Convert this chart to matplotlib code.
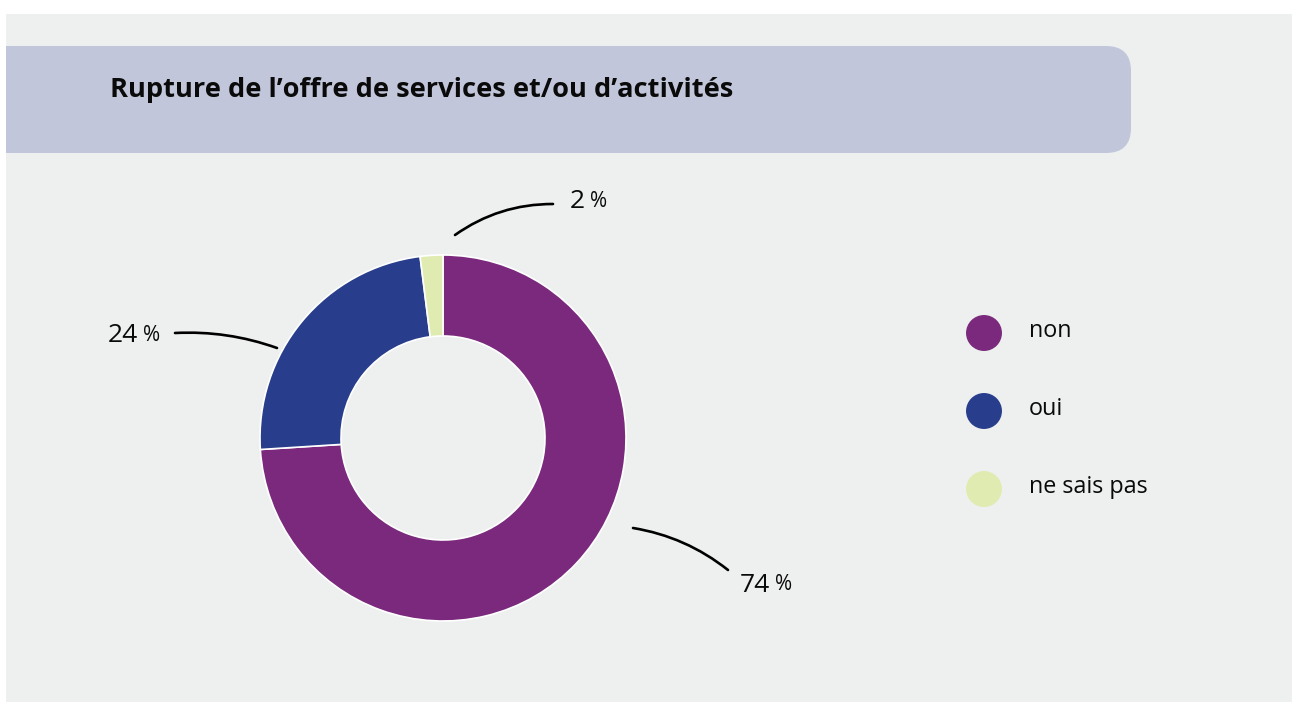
import matplotlib.pyplot as plt
from matplotlib.patches import Rectangle, FancyBboxPatch

labels = ["non", "oui", "ne sais pas"]
values = [74, 24, 2]
colors = ["#7a297c", "#283e8c", "#e0ebb2"]
title = "Rupture de l\u2019offre de services et/ou d\u2019activités"

plt.rcParams["font.family"] = ["Open Sans", "DejaVu Sans"]

W, H = 1292, 702
fig = plt.figure(figsize=(W / 100, H / 100), dpi=100)
fig.patch.set_facecolor("white")

# background layer in pixel coordinates
bg = fig.add_axes([0, 0, 1, 1])
bg.set_xlim(0, W)
bg.set_ylim(H, 0)
bg.axis("off")
panel = Rectangle((6, 14), W - 6, H - 14, facecolor="#eef0ef", edgecolor="none")
bg.add_patch(panel)
band = FancyBboxPatch((-40, 46), 1131 + 40, 107,
                      boxstyle="round,pad=0,rounding_size=25",
                      facecolor="#c2c6da", edgecolor="none")
bg.add_patch(band)
band.set_clip_path(panel)
bg.text(110, 90, title, fontsize=19.6, fontweight="bold", color="#0a0a0a",
        ha="left", va="center")

# legend
for i, (lab, col) in enumerate(zip(labels, colors)):
    y = 333 + 78 * i
    bg.scatter([984], [y], s=670, color=col, edgecolors="none")
    bg.text(1029, y - 2, lab, fontsize=16.8, color="#0a0a0a", ha="left", va="center")

# donut
cx, cy, r = 443, 438, 183
ax = fig.add_axes([(cx - r) / W, (H - cy - r) / H, 2 * r / W, 2 * r / H])
ax.pie(values, colors=colors, startangle=90, counterclock=False, radius=1,
       wedgeprops=dict(width=81 / 183, edgecolor="white", linewidth=1.2))
ax.set_xlim(-1, 1)
ax.set_ylim(-1, 1)
ax.set_aspect("equal")


def px(x, y):
    return ((x - cx) / r, (cy - y) / r)


# leader lines: (line start at ring, line end near label, curvature, label left, label y)
leaders = [
    ((633, 528), (728, 570), 0.13, (740, 585)),
    ((277, 348), (175, 333), -0.1, (108, 336)),
    ((455, 235), (553, 204), 0.16, (570, 202)),
]
for v, (start, end, rad, (lx, ly)) in zip(values, leaders):
    ax.annotate("", xy=px(*start), xytext=px(*end), annotation_clip=False,
                arrowprops=dict(arrowstyle="-", connectionstyle=f"arc3,rad={rad}",
                                shrinkA=0, shrinkB=0, lw=1.9, color="black"))
    num = ax.text(*px(lx, ly), str(v), fontsize=19, color="#0a0a0a",
                  ha="left", va="center")
    ax.annotate("%", xy=(1, 1), xycoords=num, xytext=(3.5, -1),
                textcoords="offset points", fontsize=15, color="#0a0a0a",
                ha="left", va="top", annotation_clip=False)

fig.savefig("out.png", dpi=100, facecolor=fig.get_facecolor())
